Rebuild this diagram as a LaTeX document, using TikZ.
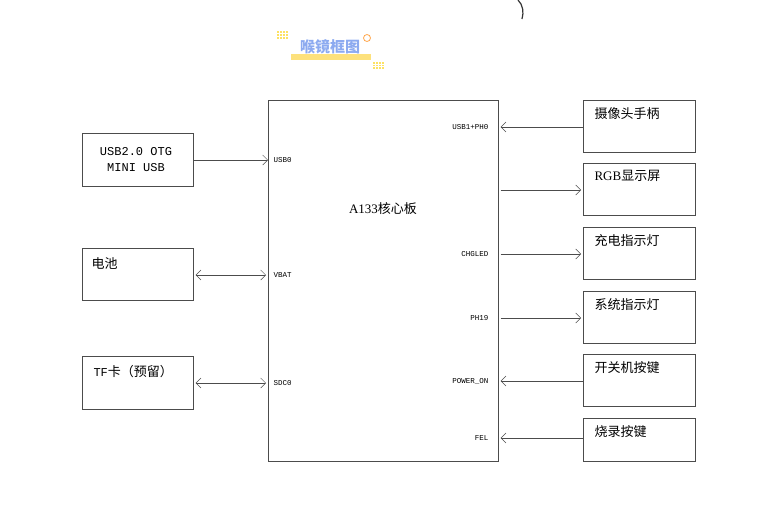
\documentclass[tikz,border=0pt]{standalone}
\usepackage{fontspec}
\setmainfont{Liberation Serif}
\setmonofont{Liberation Mono}
\newfontfamily\cjk{Noto Sans CJK SC}
\usetikzlibrary{arrows.meta}
\definecolor{ttl}{RGB}{140,170,240}
\begin{document}
\begin{tikzpicture}[x=1pt,y=-1pt,
  box/.style={draw=black!70,line width=0.6pt},
  lbl/.style={anchor=north west,font=\fontsize{13}{15}\selectfont},
  pin/.style={font=\ttfamily\fontsize{7.5}{9}\selectfont},
  con/.style={draw=black!70,line width=0.5pt,-{Straight Barb[length=5pt,width=10pt]}},
  bcon/.style={draw=black!70,line width=0.5pt,{Straight Barb[length=5pt,width=10pt]}-{Straight Barb[length=5pt,width=10pt]}}]
\useasboundingbox (0,0) rectangle (760,517);
\coordinate (a0) at (518,0);
\coordinate (a1) at (522,19);
\draw[line width=1.2pt,black!80] (a0) .. controls (523,5) and (524,12) .. (a1);
% title
\foreach \i in {0,1,2,3}{\foreach \j in {0,1,2}{\fill[yellow!70!orange!60] (277+\i*3,31+\j*3) rectangle +(1.5,1.5);
 \fill[yellow!70!orange!60] (373+\i*3,62+\j*2.5) rectangle +(1.5,1.5);}}
\fill[yellow!60!orange!50] (291,54) rectangle (371,60);
\draw[orange!70,line width=0.8pt] (367,38) circle (3.5);
\node[font=\cjk\bfseries\fontsize{15}{17}\selectfont,text=ttl] (title) at (330,47) {喉镜框图};
% main
\node[box,minimum width=230,minimum height=361,anchor=north west] (main) at (268,100) {};
\node[font=\cjk\fontsize{13}{15}\selectfont] (mt) at (383,209) {\rmfamily A133\cjk 核心板};
% left boxes
\node[box,minimum width=111,minimum height=53,anchor=north west] (usb) at (82,133) {};
\node[font=\ttfamily\fontsize{12}{14}\selectfont,align=center] at (136,160) {USB2.0 OTG\\[2pt]MINI USB};
\node[box,minimum width=111,minimum height=52,anchor=north west] (bat) at (82,248) {};
\node[lbl,font=\cjk\fontsize{13}{15}\selectfont] at (88,254) {电池};
\node[box,minimum width=111,minimum height=53,anchor=north west] (tf) at (82,356) {};
\node[lbl,font=\cjk\fontsize{13}{15}\selectfont] at (90,362) {{\ttfamily\fontsize{12}{14}\selectfont TF}卡（预留）};
% right boxes
\foreach \n/\y/\h/\t in {r1/100/52/摄像头手柄,r2/163/52/{\rmfamily RGB\cjk 显示屏},r3/227/52/充电指示灯,r4/291/52/系统指示灯,r5/354/52/开关机按键,r6/418/43/烧录按键}{
 \node[box,minimum width=112,minimum height=\h,anchor=north west] (\n) at (583,\y) {};
 \node[lbl,font=\cjk\fontsize{13}{15}\selectfont] at (591,\y+4) {\t};
}
% pins
\node[pin,anchor=west] at (270,160) {USB0};
\node[pin,anchor=west] at (270,275) {VBAT};
\node[pin,anchor=west] at (270,383) {SDC0};
\node[pin,anchor=east] at (492,127) {USB1+PH0};
\node[pin,anchor=east] at (492,254) {CHGLED};
\node[pin,anchor=east] at (492,318) {PH19};
\node[pin,anchor=east] at (492,381) {POWER\_ON};
\node[pin,anchor=east] at (492,438) {FEL};
% connectors
\draw[con] (usb.east|-0,160) -- (main.west|-0,160);
\draw[bcon] ([xshift=2pt]bat.east|-0,275) -- ([xshift=-2pt]main.west|-0,275);
\draw[bcon] ([xshift=2pt]tf.east|-0,383) -- ([xshift=-2pt]main.west|-0,383);
\draw[con] (r1.west|-0,127) -- ([xshift=2pt]main.east|-0,127);
\draw[con] ([xshift=2pt]main.east|-0,190) -- ([xshift=-2pt]r2.west|-0,190);
\draw[con] ([xshift=2pt]main.east|-0,254) -- ([xshift=-2pt]r3.west|-0,254);
\draw[con] ([xshift=2pt]main.east|-0,318) -- ([xshift=-2pt]r4.west|-0,318);
\draw[con] (r5.west|-0,381) -- ([xshift=2pt]main.east|-0,381);
\draw[con] (r6.west|-0,438) -- ([xshift=2pt]main.east|-0,438);
\end{tikzpicture}
\end{document}
